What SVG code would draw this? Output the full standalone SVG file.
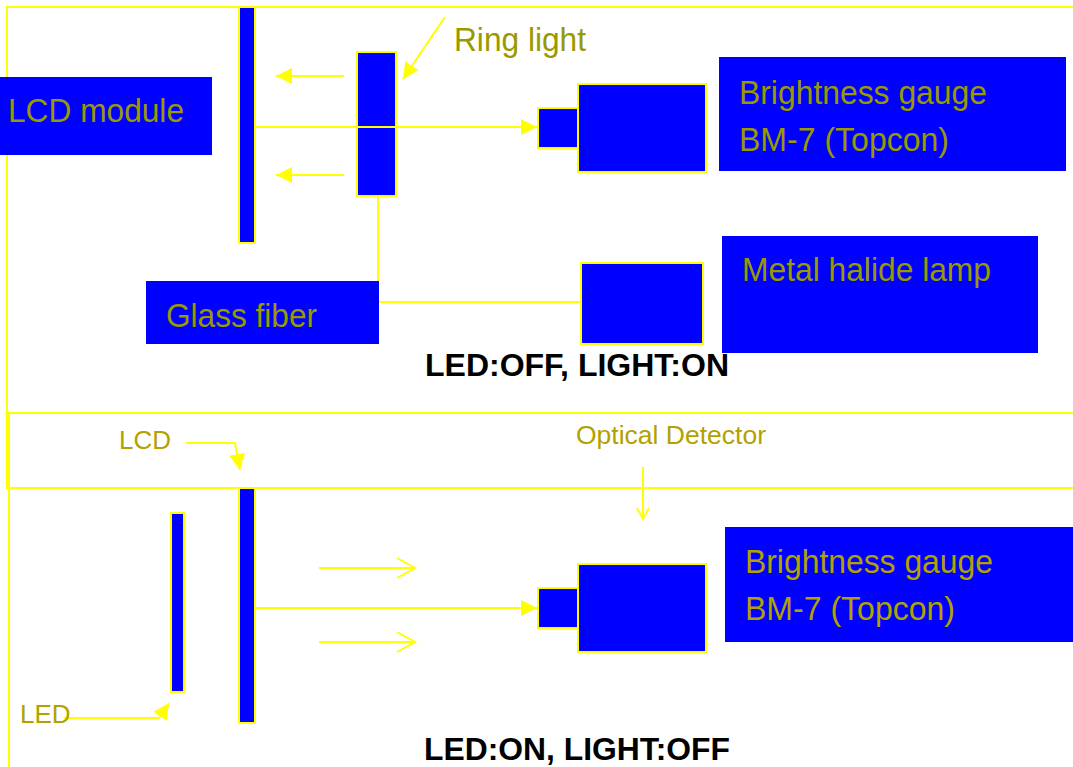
<svg xmlns="http://www.w3.org/2000/svg" width="1073" height="767" viewBox="0 0 1073 767">
<defs>
<style>
.frame{fill:none;stroke:#FFFF00;stroke-width:2}
.blk{fill:#0000FF;stroke:#FFFF00;stroke-width:2}
.lbl{fill:#0000FF;stroke:none}
.ln{fill:none;stroke:#FFFF00;stroke-width:2}
.t1{font-family:"Liberation Sans",Arial,sans-serif;font-size:34px;fill:#999900}
.t2{font-family:"Liberation Sans",Arial,sans-serif;font-size:34px;fill:#B3A100}
.t3{font-family:"Liberation Sans",Arial,sans-serif;font-size:26px;fill:#B3A100}
.cap{font-family:"Liberation Sans",Arial,sans-serif;font-size:32px;font-weight:bold;fill:#000000}
</style>
<marker id="fa16" markerWidth="17" markerHeight="17" refX="16" refY="8" orient="auto" markerUnits="userSpaceOnUse" viewBox="0 0 17 17">
<path d="M0,0 L16,8 L0,16 Z" fill="#FFFF00"/>
</marker>
</defs>
<rect width="1073" height="767" fill="#FFFFFF"/>

<g id="frames">
<rect class="frame" x="7" y="7" width="1080" height="481"/>
<rect class="frame" x="9" y="413" width="1080" height="370"/>
</g>

<g id="connectors">
<line class="ln" x1="344" y1="76" x2="276" y2="76" marker-end="url(#fa16)"/>
<line class="ln" x1="344" y1="175" x2="276" y2="175" marker-end="url(#fa16)"/>
<line class="ln" x1="255" y1="127" x2="537" y2="127" marker-end="url(#fa16)"/>
<line class="ln" x1="445" y1="17" x2="403" y2="79" marker-end="url(#fa16)"/>
<polyline class="ln" points="378,196 378,302 581,302"/>
<polyline class="ln" points="186,443 235,443 240,470" marker-end="url(#fa16)"/>
<polyline class="ln" points="64,718 159,718 169,703" marker-end="url(#fa16)"/>
<line class="ln" x1="255" y1="608" x2="537" y2="608" marker-end="url(#fa16)"/>
<line class="ln" x1="319" y1="568" x2="414" y2="568"/>
<polyline class="ln" points="397,558 415,568 397,578"/>
<line class="ln" x1="319" y1="642" x2="414" y2="642"/>
<polyline class="ln" points="397,632 415,642 397,652"/>
<line class="ln" x1="643" y1="467" x2="643" y2="519"/>
<polyline class="ln" points="637,508 643,519 649,508"/>
</g>

<g id="lcd-module">
<rect class="lbl" x="0" y="77" width="212" height="78"/>
<text class="t1" x="8" y="122" textLength="176" lengthAdjust="spacingAndGlyphs">LCD module</text>
</g>
<g id="lcd-bar-top"><rect class="blk" x="239" y="7" width="16" height="236"/></g>
<g id="ring-light">
<rect class="blk" x="357" y="52" width="39" height="144"/>
<line x1="357" y1="127" x2="396" y2="127" stroke="#FFFF00" stroke-width="2"/>
<text class="t1" x="454" y="51" textLength="132" lengthAdjust="spacingAndGlyphs">Ring light</text>
</g>
<g id="gauge-top">
<rect class="blk" x="538" y="108" width="40" height="40"/>
<rect class="blk" x="578" y="84" width="128" height="88"/>
</g>
<g id="gauge-label-top">
<rect class="lbl" x="719" y="57" width="347" height="114"/>
<text class="t1" x="739" y="104" textLength="248" lengthAdjust="spacingAndGlyphs">Brightness gauge</text>
<text class="t1" x="739" y="151" textLength="210" lengthAdjust="spacingAndGlyphs">BM-7 (Topcon)</text>
</g>
<g id="glass-fiber">
<rect class="lbl" x="146" y="281" width="233" height="63"/>
<text class="t1" x="166" y="327" textLength="151" lengthAdjust="spacingAndGlyphs">Glass fiber</text>
</g>
<g id="lamp">
<rect class="blk" x="581" y="263" width="122" height="81"/>
</g>
<g id="lamp-label">
<rect class="lbl" x="722" y="236" width="316" height="117"/>
<text class="t1" x="742" y="281" textLength="249" lengthAdjust="spacingAndGlyphs">Metal halide lamp</text>
</g>
<g id="caption-top"><text class="cap" x="425" y="376" textLength="304" lengthAdjust="spacingAndGlyphs">LED:OFF, LIGHT:ON</text></g>

<g id="lcd-label"><text class="t3" x="119" y="449">LCD</text></g>
<g id="optical-label"><text class="t3" x="576" y="444" textLength="190" lengthAdjust="spacingAndGlyphs">Optical Detector</text></g>
<g id="led-bar"><rect class="blk" x="171" y="513" width="13" height="179"/></g>
<g id="lcd-bar-bottom"><rect class="blk" x="239" y="488" width="16" height="235"/></g>
<g id="led-label"><text class="t3" x="20" y="723">LED</text></g>
<g id="gauge-bottom">
<rect class="blk" x="538" y="588" width="40" height="40"/>
<rect class="blk" x="578" y="564" width="128" height="88"/>
</g>
<g id="gauge-label-bottom">
<rect class="lbl" x="725" y="527" width="348" height="115"/>
<text class="t2" x="745" y="573" textLength="248" lengthAdjust="spacingAndGlyphs">Brightness gauge</text>
<text class="t2" x="745" y="620" textLength="210" lengthAdjust="spacingAndGlyphs">BM-7 (Topcon)</text>
</g>
<g id="caption-bottom"><text class="cap" x="424" y="760" textLength="306" lengthAdjust="spacingAndGlyphs">LED:ON, LIGHT:OFF</text></g>
</svg>
